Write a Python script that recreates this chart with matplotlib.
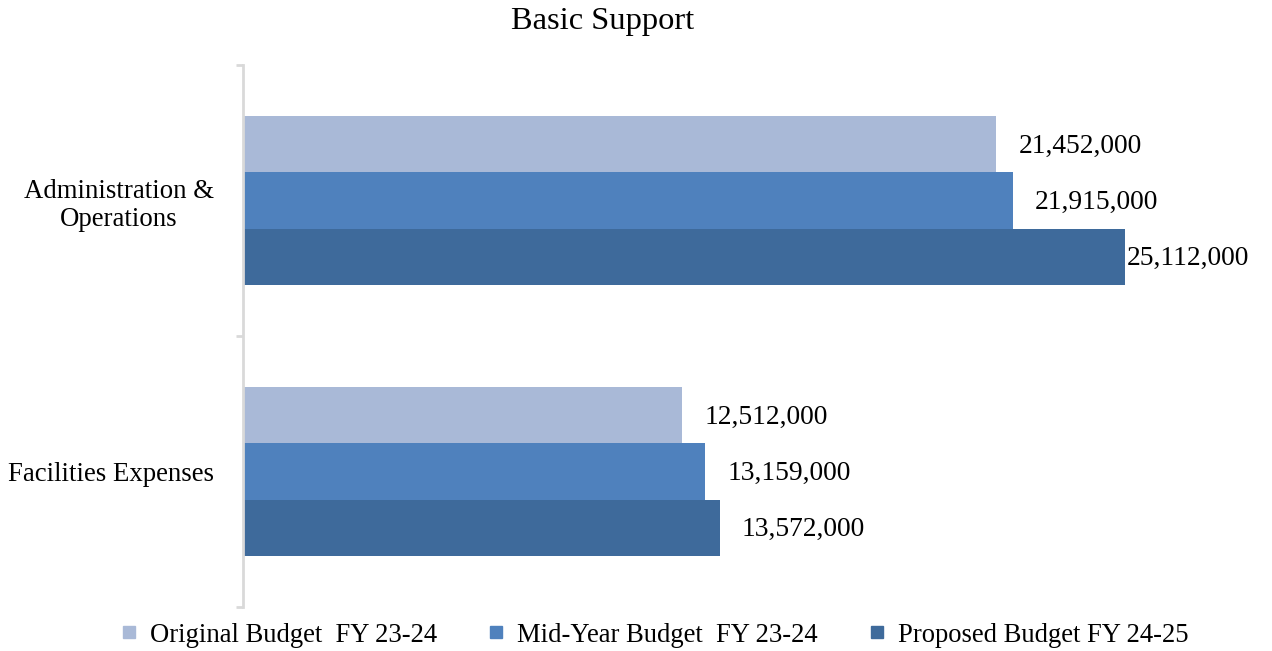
import numpy as np
import matplotlib
matplotlib.use("Agg")
import matplotlib.pyplot as plt
from matplotlib.lines import Line2D
from matplotlib.transforms import offset_copy

categories = ["Administration &\nOperations", "Facilities Expenses"]
series = ["Original Budget  FY 23-24", "Mid-Year Budget  FY 23-24", "Proposed Budget FY 24-25"]
original = [21452000, 12512000]
midyear = [21915000, 13159000]
proposed = [25112000, 13572000]
colors = ["#A9B9D7", "#4F81BD", "#3E6A9B"]

plt.rcParams["font.family"] = ["Liberation Serif", "DejaVu Serif"]

fig = plt.figure(figsize=(12.72, 6.51), dpi=100)
ax = fig.add_axes([243 / 1272, 44 / 651, (1156 - 243) / 1272, (607 - 65) / 651])

h = 0.2077
y = np.arange(len(categories))
values = [original, midyear, proposed]
vmax = max(max(v) for v in values)
for j, (vals, c) in enumerate(zip(values, colors)):
    pos = y + (j - 1) * h
    ax.barh(pos, vals, height=h, color=c, label=series[j])
    for yy, v in zip(pos, vals):
        dx = 2 if v == vmax else 22
        tr = offset_copy(ax.transData, fig=fig, x=dx, y=-2, units="dots")
        ax.text(v, yy, f"{v:,}", transform=tr, ha="left", va="center", fontsize=19.8)

ax.set_xlim(0, 26000000)
ax.set_ylim(1.5, -0.5)
ax.set_xticks([])
ax.set_yticks(y)
ax.set_yticklabels(categories, fontsize=19.3, multialignment="center")
ax.set_yticks([-0.5, 0.5, 1.5], minor=True)
ax.tick_params(axis="y", which="major", length=0, pad=21)
ax.tick_params(axis="y", which="minor", length=5, width=2, color="#D9D9D9")
for s in ["top", "right", "bottom"]:
    ax.spines[s].set_visible(False)
ax.spines["left"].set_color("#D9D9D9")
ax.spines["left"].set_linewidth(2)

fig.text(603 / 1272, 1 - 22 / 651, "Basic Support", ha="center", va="center", fontsize=23.4)

handles = [Line2D([], [], marker="s", linestyle="none", markersize=8, color=c) for c in colors]
fig.legend(handles, series, loc="center", bbox_to_anchor=(652 / 1272, 1 - 635 / 651), ncol=3,
           frameon=False, fontsize=19.2, handletextpad=0.3, columnspacing=1.7, handlelength=1.0)

fig.savefig("out.png", dpi=100)
